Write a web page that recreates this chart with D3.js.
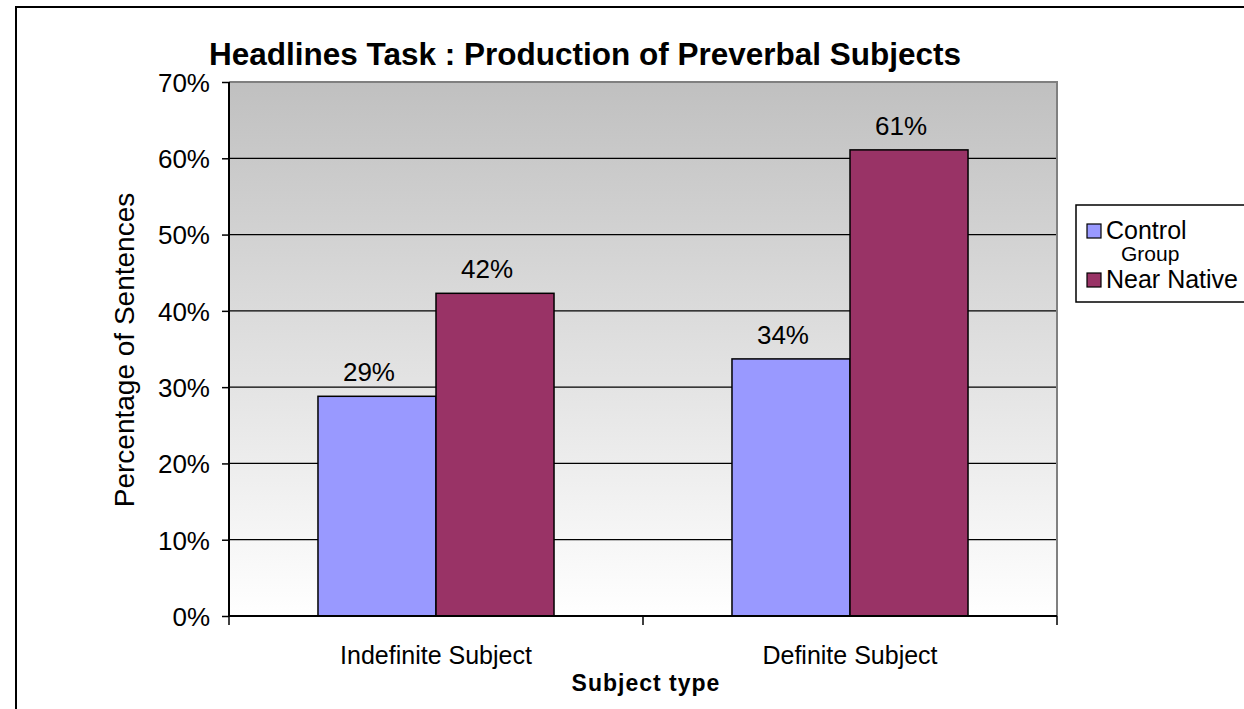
<!DOCTYPE html>
<html>
<head>
<meta charset="utf-8">
<script src="https://cdn.jsdelivr.net/npm/d3@7"></script>
<style>
  body { margin: 0; background: #fff; }
  svg { display: block; font-family: "Liberation Sans", Arial, sans-serif; }
</style>
</head>
<body>
<div id="chart"></div>
<script>
// data
const categories = ["Indefinite Subject", "Definite Subject"];
const seriesNames = ["Control", "Near Native"];
const controlValues = [0.288, 0.337];
const nearNativeValues = [0.423, 0.611];
const yTicks = [0, 0.1, 0.2, 0.3, 0.4, 0.5, 0.6, 0.7];
const colors = ["#9999ff", "#993366"];

const W = 1244, H = 709;
const plot = {left: 229, right: 1057, top: 82, bottom: 616};

const svg = d3.select("#chart").append("svg")
    .attr("width", W)
    .attr("height", H);

// outer frame (only top and left edges visible in picture)
svg.append("path")
    .attr("d", `M16,${H + 2}V7H${W + 2}`)
    .attr("fill", "none")
    .attr("stroke", "#000")
    .attr("stroke-width", 2);

// gradient background of the plot area
const grad = svg.append("defs").append("linearGradient")
    .attr("id", "bg")
    .attr("x1", 0).attr("y1", 0).attr("x2", 0).attr("y2", 1);
grad.append("stop").attr("offset", "0%").attr("stop-color", "#c0c0c0");
grad.append("stop").attr("offset", "100%").attr("stop-color", "#ffffff");

svg.append("rect")
    .attr("x", plot.left)
    .attr("y", plot.top)
    .attr("width", plot.right - plot.left)
    .attr("height", plot.bottom - plot.top)
    .attr("fill", "url(#bg)");

// scales
const x0 = d3.scaleBand()
    .domain(categories)
    .range([plot.left, plot.right])
    .paddingInner(0)
    .paddingOuter(0);

const x1 = d3.scaleBand()
    .domain(seriesNames)
    .range([0, x0.bandwidth()])
    .paddingInner(0)
    .paddingOuter(0.754);

const y = d3.scaleLinear()
    .domain([0, 0.7])
    .range([plot.bottom, plot.top]);

const fmt = d3.format(".0%");

// gridlines
svg.selectAll(".grid")
    .data(yTicks.slice(1, -1))
    .join("line")
    .attr("class", "grid")
    .attr("x1", plot.left)
    .attr("x2", plot.right)
    .attr("y1", d => y(d))
    .attr("y2", d => y(d))
    .attr("stroke", "#000")
    .attr("stroke-width", 1.3);

// top and right border of the plot (gray)
svg.append("path")
    .attr("d", `M${plot.left},${plot.top}H${plot.right}V${plot.bottom}`)
    .attr("fill", "none")
    .attr("stroke", "#808080")
    .attr("stroke-width", 2);

// bars
const rows = categories.map((c, i) => ({
    cat: c,
    vals: [controlValues[i], nearNativeValues[i]]
}));

const groups = svg.selectAll(".grp")
    .data(rows)
    .join("g")
    .attr("class", "grp")
    .attr("transform", d => `translate(${x0(d.cat)},0)`);

groups.selectAll("rect")
    .data(d => d.vals.map((v, j) => ({name: seriesNames[j], v: v, j: j})))
    .join("rect")
    .attr("x", d => x1(d.name))
    .attr("y", d => y(d.v))
    .attr("width", x1.bandwidth())
    .attr("height", d => y(0) - y(d.v))
    .attr("fill", d => colors[d.j])
    .attr("stroke", "#000")
    .attr("stroke-width", 1.5);

// value labels sit a little left of the bar centre, as Excel drew them
groups.selectAll("text")
    .data(d => d.vals.map((v, j) => ({name: seriesNames[j], v: v})))
    .join("text")
    .attr("x", d => x1(d.name) + x1.bandwidth() / 2 - 8)
    .attr("y", d => y(d.v) - 15)
    .attr("text-anchor", "middle")
    .attr("font-size", 26)
    .attr("fill", "#000")
    .text(d => fmt(d.v));

// y axis
const yAxis = d3.axisLeft(y)
    .tickValues(yTicks)
    .tickFormat(fmt)
    .tickSize(7)
    .tickPadding(12);

const gy = svg.append("g")
    .attr("transform", `translate(${plot.left},0)`)
    .call(yAxis);
gy.select(".domain").attr("stroke", "#000").attr("stroke-width", 2)
    .attr("d", `M0,${plot.top}V${plot.bottom}`);
gy.selectAll(".tick line").attr("stroke", "#000").attr("stroke-width", 1.5);
gy.selectAll(".tick text")
    .attr("font-size", 26)
    .attr("font-family", "Liberation Sans, Arial, sans-serif")
    .attr("fill", "#000")
    .attr("dy", "0.36em");

// x axis
const xAxis = d3.axisBottom(x0)
    .tickSize(0)
    .tickPadding(30);

const gx = svg.append("g")
    .attr("transform", `translate(0,${plot.bottom})`)
    .call(xAxis);
gx.select(".domain").attr("stroke", "#000").attr("stroke-width", 2)
    .attr("d", `M${plot.left},0H${plot.right}`);
gx.selectAll(".tick text")
    .attr("font-size", 25)
    .attr("font-family", "Liberation Sans, Arial, sans-serif")
    .attr("fill", "#000");

// category boundary ticks
const bounds = [plot.left].concat(categories.map(c => x0(c) + x0.bandwidth()));
gx.selectAll(".bound")
    .data(bounds)
    .join("line")
    .attr("class", "bound")
    .attr("x1", d => d)
    .attr("x2", d => d)
    .attr("y1", 0)
    .attr("y2", 9)
    .attr("stroke", "#000")
    .attr("stroke-width", 1.5);

// title
svg.append("text")
    .attr("x", 585)
    .attr("y", 65)
    .attr("text-anchor", "middle")
    .attr("font-size", 31.5)
    .attr("font-weight", "bold")
    .text("Headlines Task : Production of Preverbal Subjects");

// axis titles
svg.append("text")
    .attr("transform", "translate(134,350) rotate(-90)")
    .attr("text-anchor", "middle")
    .attr("font-size", 28)
    .text("Percentage of Sentences");

svg.append("text")
    .attr("x", 646)
    .attr("y", 691)
    .attr("text-anchor", "middle")
    .attr("font-size", 23)
    .attr("font-weight", "bold")
    .attr("letter-spacing", 1)
    .text("Subject type");

// legend
const legend = svg.append("g");
legend.append("rect")
    .attr("x", 1076)
    .attr("y", 205)
    .attr("width", 200)
    .attr("height", 97)
    .attr("fill", "#fff")
    .attr("stroke", "#000")
    .attr("stroke-width", 1.5);

const legendItems = [
    {name: "Control", sub: "Group", color: colors[0], y: 231},
    {name: "Near Native", sub: null, color: colors[1], y: 280}
];

legendItems.forEach(d => {
    legend.append("rect")
        .attr("x", 1087)
        .attr("y", d.y - 7)
        .attr("width", 14)
        .attr("height", 14)
        .attr("fill", d.color)
        .attr("stroke", "#000")
        .attr("stroke-width", 1.2);
    legend.append("text")
        .attr("x", 1106)
        .attr("y", d.y + 8)
        .attr("font-size", 25)
        .text(d.name);
    if (d.sub) {
        legend.append("text")
            .attr("x", 1121)
            .attr("y", d.y + 30)
            .attr("font-size", 21)
            .text(d.sub);
    }
});
</script>
</body>
</html>
